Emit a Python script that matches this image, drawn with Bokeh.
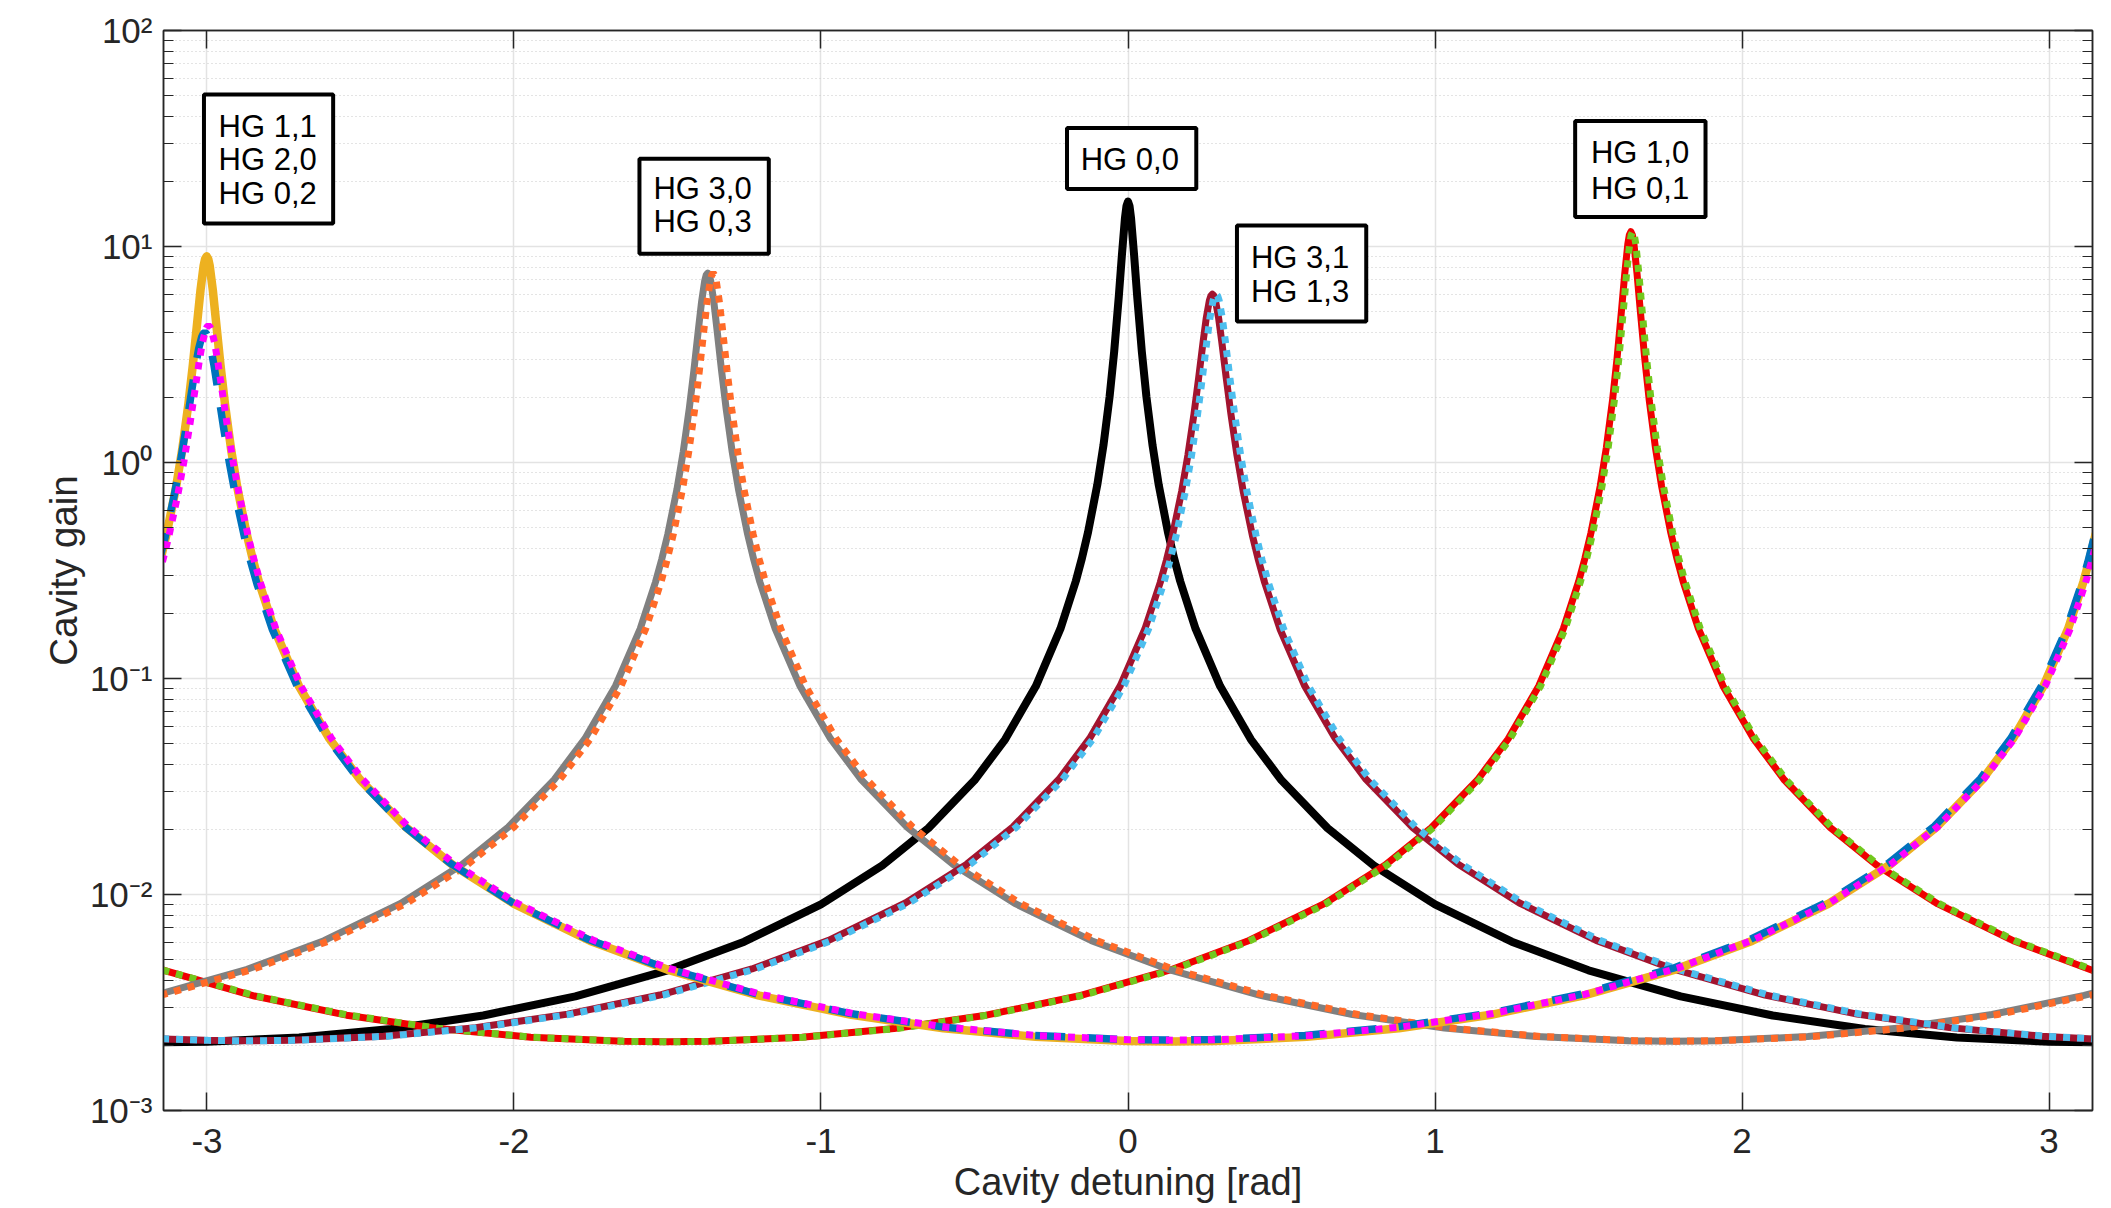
import math
from bokeh.plotting import figure
from bokeh.models import (Range1d, FixedTicker, LinearAxis, LogAxis, Label,
                          BoxAnnotation, CustomJSTickFormatter)
from bokeh.embed import file_html
from bokeh.resources import INLINE

# ---------------- data ----------------
x_ticks = [-3, -2, -1, 0, 1, 2, 3]
x_tick_labels = ["-3", "-2", "-1", "0", "1", "2", "3"]
y_exps = [2, 1, 0, -1, -2, -3]
y_tick_labels = ["10\u00b2", "10\u00b9", "10\u2070", "10\u207b\u00b9", "10\u207b\u00b2", "10\u207b\u00b3"]

# HG 0,0
x00 = [-3.1416, -3.0, -2.7, -2.4, -2.1, -1.8, -1.5, -1.25, -1.0, -0.8, -0.65, -0.5, -0.4, -0.3, -0.22, -0.17,
       -0.15, -0.13, -0.1, -0.08, -0.06, -0.045, -0.03, -0.02, -0.01, -0.005, 0.0, 0.005, 0.01, 0.02, 0.03,
       0.045, 0.06, 0.08, 0.1, 0.13, 0.15, 0.17, 0.22, 0.3, 0.4, 0.5, 0.65, 0.8, 1.0, 1.25, 1.5, 1.8, 2.1,
       2.4, 2.7, 3.0, 3.1416]
g00 = [0.002071, 0.002082, 0.002176, 0.002384, 0.002753, 0.003375, 0.004457, 0.006048, 0.009007, 0.01365,
       0.02029, 0.03377, 0.05231, 0.09223, 0.1701, 0.2824, 0.3607, 0.4765, 0.7887, 1.199, 2.015, 3.265, 5.863,
       9.073, 13.51, 15.39, 16.14, 15.39, 13.51, 9.073, 5.863, 3.265, 2.015, 1.199, 0.7887, 0.4765, 0.3607,
       0.2824, 0.1701, 0.09223, 0.05231, 0.03377, 0.02029, 0.01365, 0.009007, 0.006048, 0.004457, 0.003375,
       0.002753, 0.002384, 0.002176, 0.002082, 0.002071]

# HG 1,0
x10 = [-3.1452, -2.8452, -2.5452, -2.2452, -1.9452, -1.6452, -1.5036, -1.362, -1.062, -0.762, -0.462, -0.162,
       0.138, 0.388, 0.638, 0.838, 0.988, 1.138, 1.238, 1.338, 1.418, 1.468, 1.488, 1.508, 1.538, 1.558, 1.578,
       1.593, 1.608, 1.618, 1.628, 1.633, 1.638, 1.643, 1.648, 1.658, 1.668, 1.683, 1.698, 1.718, 1.738, 1.768,
       1.788, 1.808, 1.858, 1.938, 2.038, 2.138, 2.288, 2.438, 2.638, 2.888, 3.138, 3.158]
g10 = [0.004474, 0.003388, 0.002763, 0.002394, 0.002184, 0.002090, 0.002079, 0.002090, 0.002184, 0.002394,
       0.002763, 0.003388, 0.004474, 0.006072, 0.009041, 0.01370, 0.02036, 0.03388, 0.05246, 0.09239, 0.1701,
       0.2816, 0.3591, 0.4730, 0.7773, 1.171, 1.930, 3.042, 5.166, 7.492, 10.27, 11.31, 11.71, 11.31, 10.27,
       7.492, 5.166, 3.042, 1.930, 1.171, 0.7773, 0.4730, 0.3591, 0.2816, 0.1701, 0.09239, 0.05246, 0.03388,
       0.02036, 0.01370, 0.009041, 0.006072, 0.004474, 0.004380]

# HG 0,1
x01 = [-3.1452, -2.8392, -2.5392, -2.2392, -1.9392, -1.6392, -1.4976, -1.356, -1.056, -0.756, -0.456, -0.156,
       0.144, 0.394, 0.644, 0.844, 0.994, 1.144, 1.244, 1.344, 1.424, 1.474, 1.494, 1.514, 1.544, 1.564, 1.584,
       1.599, 1.614, 1.624, 1.634, 1.639, 1.644, 1.649, 1.654, 1.664, 1.674, 1.689, 1.704, 1.724, 1.744, 1.774,
       1.794, 1.814, 1.864, 1.944, 2.044, 2.144, 2.294, 2.444, 2.644, 2.894, 3.144, 3.164]
g01 = [0.004474, 0.003388, 0.002763, 0.002394, 0.002184, 0.002090, 0.002079, 0.002090, 0.002184, 0.002394,
       0.002763, 0.003388, 0.004474, 0.006072, 0.009041, 0.01370, 0.02036, 0.03388, 0.05246, 0.09239, 0.1701,
       0.2816, 0.3591, 0.4730, 0.7773, 1.171, 1.930, 3.042, 5.166, 7.492, 10.27, 11.31, 11.71, 11.31, 10.27,
       7.492, 5.166, 3.042, 1.930, 1.171, 0.7773, 0.4730, 0.3591, 0.2816, 0.1701, 0.09239, 0.05246, 0.03388,
       0.02036, 0.01370, 0.009041, 0.006072, 0.004474, 0.004380]

# HG 3,0
x30 = [-3.169, -2.869, -2.619, -2.369, -2.169, -2.019, -1.869, -1.769, -1.669, -1.589, -1.539, -1.519, -1.499,
       -1.469, -1.449, -1.429, -1.414, -1.399, -1.389, -1.379, -1.374, -1.369, -1.364, -1.359, -1.349, -1.339,
       -1.324, -1.309, -1.289, -1.269, -1.239, -1.219, -1.199, -1.149, -1.069, -0.969, -0.869, -0.719, -0.569,
       -0.369, -0.119, 0.131, 0.431, 0.731, 1.031, 1.331, 1.631, 1.7726, 1.9142, 2.2142, 2.5142, 2.8142,
       3.1142, 3.1642]
g30 = [0.003411, 0.004503, 0.006111, 0.009098, 0.01378, 0.02048, 0.03405, 0.05267, 0.09260, 0.1698, 0.2797,
       0.3553, 0.4656, 0.7542, 1.115, 1.778, 2.670, 4.162, 5.538, 6.908, 7.364, 7.529, 7.364, 6.908, 5.538,
       4.162, 2.670, 1.778, 1.115, 0.7542, 0.4656, 0.3553, 0.2797, 0.1698, 0.09260, 0.05267, 0.03405, 0.02048,
       0.01378, 0.009098, 0.006111, 0.004503, 0.003411, 0.002782, 0.002409, 0.002199, 0.002104, 0.002093,
       0.002104, 0.002199, 0.002409, 0.002782, 0.003411, 0.003552]

# HG 0,3
x03 = [-3.151, -2.851, -2.601, -2.351, -2.151, -2.001, -1.851, -1.751, -1.651, -1.571, -1.521, -1.501, -1.481,
       -1.451, -1.431, -1.411, -1.396, -1.381, -1.371, -1.361, -1.356, -1.351, -1.346, -1.341, -1.331, -1.321,
       -1.306, -1.291, -1.271, -1.251, -1.221, -1.201, -1.181, -1.131, -1.051, -0.951, -0.851, -0.701, -0.551,
       -0.351, -0.101, 0.149, 0.449, 0.749, 1.049, 1.349, 1.649, 1.7906, 1.9322, 2.2322, 2.5322, 2.8322,
       3.1322, 3.1822]
g03 = [0.003411, 0.004503, 0.006111, 0.009098, 0.01378, 0.02048, 0.03405, 0.05267, 0.09260, 0.1698, 0.2797,
       0.3553, 0.4656, 0.7542, 1.115, 1.778, 2.670, 4.162, 5.538, 6.908, 7.364, 7.529, 7.364, 6.908, 5.538,
       4.162, 2.670, 1.778, 1.115, 0.7542, 0.4656, 0.3553, 0.2797, 0.1698, 0.09260, 0.05267, 0.03405, 0.02048,
       0.01378, 0.009098, 0.006111, 0.004503, 0.003411, 0.002782, 0.002409, 0.002199, 0.002104, 0.002093,
       0.002104, 0.002199, 0.002409, 0.002782, 0.003411, 0.003552]

# HG 3,1
x31 = [-3.1582, -3.0082, -2.8666, -2.725, -2.425, -2.125, -1.825, -1.525, -1.225, -0.975, -0.725, -0.525,
       -0.375, -0.225, -0.125, -0.025, 0.055, 0.105, 0.125, 0.145, 0.175, 0.195, 0.215, 0.23, 0.245, 0.255,
       0.265, 0.27, 0.275, 0.28, 0.285, 0.295, 0.305, 0.32, 0.335, 0.355, 0.375, 0.405, 0.425, 0.445, 0.495,
       0.575, 0.675, 0.775, 0.925, 1.075, 1.275, 1.525, 1.775, 2.075, 2.375, 2.675, 2.975, 3.175]
g31 = [0.002147, 0.002112, 0.002101, 0.002112, 0.002207, 0.002419, 0.002793, 0.003424, 0.004521, 0.006134,
       0.009132, 0.01383, 0.02055, 0.03415, 0.05279, 0.09268, 0.1695, 0.2782, 0.3525, 0.4601, 0.7383, 1.079,
       1.683, 2.457, 3.659, 4.676, 5.613, 5.908, 6.014, 5.908, 5.613, 4.676, 3.659, 2.457, 1.683, 1.079, 0.7383,
       0.4601, 0.3525, 0.2782, 0.1695, 0.09268, 0.05279, 0.03415, 0.02055, 0.01383, 0.009132, 0.006134,
       0.004521, 0.003424, 0.002793, 0.002419, 0.002207, 0.002132]

# HG 1,3
x13 = [-3.1462, -2.9962, -2.8546, -2.713, -2.413, -2.113, -1.813, -1.513, -1.213, -0.963, -0.713, -0.513,
       -0.363, -0.213, -0.113, -0.013, 0.067, 0.117, 0.137, 0.157, 0.187, 0.207, 0.227, 0.242, 0.257, 0.267,
       0.277, 0.282, 0.287, 0.292, 0.297, 0.307, 0.317, 0.332, 0.347, 0.367, 0.387, 0.417, 0.437, 0.457, 0.507,
       0.587, 0.687, 0.787, 0.937, 1.087, 1.287, 1.537, 1.787, 2.087, 2.387, 2.687, 2.987, 3.187]
g13 = [0.002147, 0.002112, 0.002101, 0.002112, 0.002207, 0.002419, 0.002793, 0.003424, 0.004521, 0.006134,
       0.009132, 0.01383, 0.02055, 0.03415, 0.05279, 0.09268, 0.1695, 0.2782, 0.3525, 0.4601, 0.7383, 1.079,
       1.683, 2.457, 3.659, 4.676, 5.613, 5.908, 6.014, 5.908, 5.613, 4.676, 3.659, 2.457, 1.683, 1.079, 0.7383,
       0.4601, 0.3525, 0.2782, 0.1695, 0.09268, 0.05279, 0.03415, 0.02055, 0.01383, 0.009132, 0.006134,
       0.004521, 0.003424, 0.002793, 0.002419, 0.002207, 0.002132]

# HG 1,1
x11 = [-3.151, -3.131, -3.101, -3.081, -3.061, -3.046, -3.031, -3.021, -3.011, -3.006, -3.001, -2.996, -2.991,
       -2.981, -2.971, -2.956, -2.941, -2.921, -2.901, -2.871, -2.851, -2.831, -2.781, -2.701, -2.601, -2.501,
       -2.351, -2.201, -2.001, -1.751, -1.501, -1.201, -0.901, -0.601, -0.301, -0.001, 0.1406, 0.2822, 0.5822,
       0.8822, 1.1822, 1.4822, 1.7822, 2.0322, 2.2822, 2.4822, 2.6322, 2.7822, 2.8822, 2.9822, 3.0622, 3.1122,
       3.1322, 3.1522]
g11 = [0.3571, 0.4690, 0.7647, 1.140, 1.845, 2.828, 4.569, 6.289, 8.124, 8.764, 9.0, 8.764, 8.124, 6.289,
       4.569, 2.828, 1.845, 1.140, 0.7647, 0.4690, 0.3571, 0.2806, 0.1700, 0.09252, 0.05258, 0.03398, 0.02043,
       0.01375, 0.009074, 0.006094, 0.004491, 0.003401, 0.002774, 0.002403, 0.002192, 0.002098, 0.002087,
       0.002098, 0.002192, 0.002403, 0.002774, 0.003401, 0.004491, 0.006094, 0.009074, 0.01375, 0.02043,
       0.03398, 0.05258, 0.09252, 0.1700, 0.2806, 0.3571, 0.4690]

# HG 2,0
x20 = [-3.157, -3.137, -3.107, -3.087, -3.067, -3.052, -3.037, -3.027, -3.017, -3.012, -3.007, -3.002, -2.997,
       -2.987, -2.977, -2.962, -2.947, -2.927, -2.907, -2.877, -2.857, -2.837, -2.787, -2.707, -2.607, -2.507,
       -2.357, -2.207, -2.007, -1.757, -1.507, -1.207, -0.907, -0.607, -0.307, -0.007, 0.1346, 0.2762, 0.5762,
       0.8762, 1.1762, 1.4762, 1.7762, 2.0262, 2.2762, 2.4762, 2.6262, 2.7762, 2.8762, 2.9762, 3.0562, 3.1062,
       3.1262, 3.1462]
g20 = [0.3451, 0.4465, 0.7003, 0.9958, 1.483, 2.046, 2.808, 3.365, 3.820, 3.953, 4.0, 3.953, 3.820, 3.365,
       2.808, 2.046, 1.483, 0.9958, 0.7003, 0.4465, 0.3451, 0.2740, 0.1685, 0.09275, 0.05301, 0.03435, 0.02069,
       0.01393, 0.009204, 0.006184, 0.004559, 0.003453, 0.002816, 0.002439, 0.002226, 0.002130, 0.002119,
       0.002130, 0.002226, 0.002439, 0.002816, 0.003453, 0.004559, 0.006184, 0.009204, 0.01393, 0.02069,
       0.03435, 0.05301, 0.09275, 0.1685, 0.2740, 0.3451, 0.4465]

# HG 0,2
x02 = [-3.145, -3.125, -3.095, -3.075, -3.055, -3.04, -3.025, -3.015, -3.005, -3.0, -2.995, -2.99, -2.985,
       -2.975, -2.965, -2.95, -2.935, -2.915, -2.895, -2.865, -2.845, -2.825, -2.775, -2.695, -2.595, -2.495,
       -2.345, -2.195, -1.995, -1.745, -1.495, -1.195, -0.895, -0.595, -0.295, 0.005, 0.1466, 0.2882, 0.5882,
       0.8882, 1.1882, 1.4882, 1.7882, 2.0382, 2.2882, 2.4882, 2.6382, 2.7882, 2.8882, 2.9882, 3.0682, 3.1182,
       3.1382, 3.1582]
g02 = [0.3467, 0.4493, 0.7079, 1.012, 1.521, 2.120, 2.951, 3.574, 4.092, 4.246, 4.300, 4.246, 4.092, 3.574,
       2.951, 2.120, 1.521, 1.012, 0.7079, 0.4493, 0.3467, 0.2749, 0.1688, 0.09275, 0.05297, 0.03431, 0.02066,
       0.01391, 0.009190, 0.006175, 0.004551, 0.003447, 0.002812, 0.002435, 0.002222, 0.002127, 0.002116,
       0.002127, 0.002222, 0.002435, 0.002812, 0.003447, 0.004551, 0.006175, 0.009190, 0.01391, 0.02066,
       0.03431, 0.05297, 0.09275, 0.1688, 0.2749, 0.3467, 0.4493]

# annotation boxes: (lines of text)
box_texts = [["HG 1,1", "HG 2,0", "HG 0,2"],
             ["HG 3,0", "HG 0,3"],
             ["HG 0,0"],
             ["HG 3,1", "HG 1,3"],
             ["HG 1,0", "HG 0,1"]]

# ---------------- layout / style ----------------
FONT = "Liberation Sans"
AX = "#262626"
# box geometry (data coords): left, right, top, bottom, text x, text baselines
box_geom = [(-3.0098, -2.5890, 50.5, 12.77, -2.9622, [36.03, 25.26, 17.58]),
            (-1.5913, -1.1700, 25.48, 9.252, -1.5457, [18.49, 13.09]),
            (-0.1986, 0.2224, 35.35, 18.45, -0.1540, [25.26]),
            (0.3549, 0.7760, 12.52, 4.499, 0.4005, [8.909, 6.202]),
            (1.4565, 1.8811, 38.09, 13.68, 1.5078, [27.13, 18.54])]

p = figure(frame_width=1929, frame_height=1080,
           x_range=Range1d(-math.pi, math.pi), y_range=Range1d(1e-3, 1e2),
           y_axis_type="log", output_backend="svg", toolbar_location=None,
           min_border_left=163, min_border_right=15, min_border_top=30, min_border_bottom=98,
           outline_line_color=AX, outline_line_width=1.5,
           background_fill_color="white", border_fill_color="white")

blank = CustomJSTickFormatter(code="return ''")
yminor = [m * 10.0 ** e for e in range(-3, 2) for m in range(2, 10)]


def style_axis(ax, ticker, minor):
    ax.ticker = ticker
    ax.axis_line_color = AX
    ax.axis_line_width = 1.5
    ax.major_tick_line_color = AX
    ax.major_tick_line_width = 1.5
    ax.major_tick_in = 18
    ax.major_tick_out = 0
    if minor:
        ax.minor_tick_line_color = AX
        ax.minor_tick_line_width = 1.2
        ax.minor_tick_in = 10
        ax.minor_tick_out = 0
    else:
        ax.minor_tick_line_color = None


xt = FixedTicker(ticks=x_ticks)
yt = FixedTicker(ticks=[10.0 ** e for e in y_exps], minor_ticks=yminor)

xa = p.xaxis[0]
style_axis(xa, xt, False)
xa.major_label_overrides = {t: s for t, s in zip(x_ticks, x_tick_labels)}
xa.major_label_text_font = FONT
xa.major_label_text_font_size = "35px"
xa.major_label_text_color = AX
xa.major_label_standoff = 18
xa.axis_label = "Cavity detuning [rad]"
xa.axis_label_text_font = FONT
xa.axis_label_text_font_size = "38px"
xa.axis_label_text_font_style = "normal"
xa.axis_label_text_color = AX
xa.axis_label_standoff = 5

ya = p.yaxis[0]
style_axis(ya, yt, True)
ya.major_label_overrides = {10.0 ** e: s for e, s in zip(y_exps, y_tick_labels)}
ya.major_label_text_font = FONT
ya.major_label_text_font_size = "35px"
ya.major_label_text_color = AX
ya.major_label_standoff = 11
ya.axis_label = "Cavity gain"
ya.axis_label_text_font = FONT
ya.axis_label_text_font_size = "38.5px"
ya.axis_label_text_font_style = "normal"
ya.axis_label_text_color = AX
ya.axis_label_standoff = 2

top_ax = LinearAxis(formatter=blank, major_label_standoff=0)
style_axis(top_ax, FixedTicker(ticks=x_ticks), False)
p.add_layout(top_ax, "above")
right_ax = LogAxis(formatter=blank, major_label_standoff=0)
style_axis(right_ax, FixedTicker(ticks=[10.0 ** e for e in y_exps], minor_ticks=yminor), True)
p.add_layout(right_ax, "right")

p.xgrid.ticker = xt
p.xgrid.grid_line_color = "#E3E3E3"
p.xgrid.grid_line_width = 1.5
p.ygrid.ticker = yt
p.ygrid.grid_line_color = "#E3E3E3"
p.ygrid.grid_line_width = 1.5
p.ygrid.minor_grid_line_color = "#C8C8C8"
p.ygrid.minor_grid_line_width = 1
p.ygrid.minor_grid_line_dash = "1 3"

# ---------------- curves ----------------
p.line(x00, g00, line_color="#000000", line_width=8, line_join="round")
p.line(x10, g10, line_color="#F00000", line_width=7, line_join="round")
p.line(x01, g01, line_color="#72C81E", line_width=7, line_dash="7 7")
p.line(x30, g30, line_color="#808080", line_width=7, line_join="round")
p.line(x03, g03, line_color="#FF6A28", line_width=7, line_dash="7 7")
p.line(x31, g31, line_color="#A2142F", line_width=7, line_join="round")
p.line(x13, g13, line_color="#4DBEEE", line_width=7, line_dash="7 7")
p.line(x11, g11, line_color="#EDB120", line_width=8.5, line_join="round")
p.line(x20, g20, line_color="#0072BD", line_width=7.5, line_dash="30 22")
p.line(x02, g02, line_color="#FF00FF", line_width=7, line_dash="7 7")

# ---------------- annotation boxes ----------------
for texts, (l, r, t, b, tx, bls) in zip(box_texts, box_geom):
    p.add_layout(BoxAnnotation(left=l, right=r, top=t, bottom=b, fill_color="white", fill_alpha=1.0,
                               line_color="black", line_width=4, line_alpha=1.0))
    for txt, by in zip(texts, bls):
        p.add_layout(Label(x=tx, y=by, text=txt, text_font=FONT, text_font_size="31px",
                           text_color="black", text_align="left", text_baseline="alphabetic"))

open("out.html", "w").write(file_html(p, INLINE))
